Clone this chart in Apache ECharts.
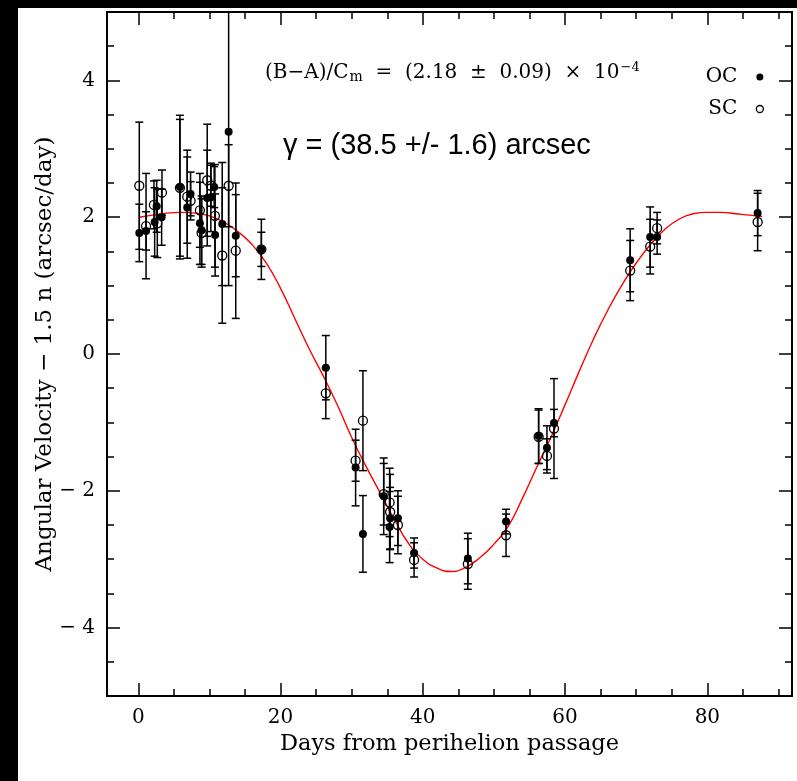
<!DOCTYPE html>
<html><head><meta charset="utf-8">
<script src="https://cdn.jsdelivr.net/npm/echarts@6/dist/echarts.min.js"></script>
<style>html,body{margin:0;padding:0;background:#fff}#c{width:797px;height:781px}</style>
</head><body><div id="c"></div>
<script>
// ---- tick labels ----
const xTickLabels = [0, 20, 40, 60, 80];
const xMinorTicks = [5, 10, 15, 25, 30, 35, 45, 50, 55, 65, 70, 75, 85, 90];
const yTickLabels = [-4, -2, 0, 2, 4];
const yMinorTicks = [-4.5, -3.5, -3, -2.5, -1.5, -1, -0.5, 0.5, 1, 1.5, 2.5, 3, 3.5, 4.5];

// ---- OC (filled) ----
const ocDays = [0.14, 1.09, 2.3, 2.58, 3.28, 5.85, 6.88, 7.35, 8.66, 8.9, 9.69, 10.2, 10.67, 10.8, 11.8, 12.7, 13.7, 17.3,
  26.36, 30.55, 31.58, 34.5, 35.33, 35.4, 36.5, 38.77, 46.33, 51.7, 56.28, 57.45, 58.44, 69.15, 71.96, 72.94, 87.07];
const ocVel = [1.77, 1.80, 1.93, 2.16, 2.00, 2.44, 2.14, 2.34, 1.91, 1.81, 2.28, 2.29, 2.44, 1.74, 1.90, 3.25, 1.73, 1.53,
  -0.20, -1.66, -2.63, -2.08, -2.53, -2.40, -2.40, -2.91, -2.99, -2.45, -1.20, -1.37, -1.01, 1.37, 1.71, 1.71, 2.06];
const ocErr = [0.42, 0.28, 0.50, 0.38, 0.41, 1.05, 0.74, 0.32, 0.60, 0.50, 0.70, 0.50, 0.30, 0.60, 0.90, 2.25, 0.60, 0.25,
  0.47, 0.56, 0.56, 0.56, 0.52, 0.45, 0.40, 0.22, 0.37, 0.18, 0.40, 0.32, 0.20, 0.46, 0.44, 0.25, 0.33];

// ---- SC (open) ----
const scDays = [0.14, 1.09, 2.2, 2.67, 3.33, 5.85, 6.88, 7.35, 8.66, 8.9, 9.69, 10.2, 10.77, 11.8, 12.7, 13.7, 17.3,
  26.36, 30.55, 31.58, 34.5, 35.33, 35.4, 36.5, 38.77, 46.33, 51.7, 56.28, 57.45, 58.44, 69.15, 71.96, 72.94, 87.07];
const scVel = [2.46, 1.87, 2.18, 1.91, 2.36, 2.43, 2.30, 2.24, 2.10, 1.77, 2.54, 2.46, 2.02, 1.44, 2.46, 1.51, 1.53,
  -0.575, -1.56, -0.975, -2.05, -2.17, -2.31, -2.50, -3.01, -3.07, -2.65, -1.21, -1.49, -1.09, 1.22, 1.57, 1.84, 1.93];
const scErr = [0.93, 0.77, 0.35, 0.50, 0.33, 1.00, 0.68, 0.28, 0.54, 0.50, 0.82, 0.30, 0.75, 0.99, 0.60, 0.99, 0.44,
  0.37, 0.30, 0.73, 0.45, 0.50, 0.55, 0.42, 0.25, 0.37, 0.31, 0.39, 0.25, 0.73, 0.44, 0.40, 0.23, 0.42];

// ---- fitted curve ----
const fitDays = [0.1, 2, 4, 6, 8, 10, 12, 14, 16, 18, 20, 22, 24, 26, 28, 30, 32, 34, 36, 38, 40, 42, 44, 46, 48,
  50, 52, 54, 56, 58, 60, 62, 64, 66, 68, 70, 72, 74, 76, 78, 80, 82, 84, 86, 87.7];
const fitVel = [2.00, 2.03, 2.06, 2.07, 2.06, 2.02, 1.93, 1.79, 1.60, 1.33, 0.96, 0.52, 0.08, -0.32, -0.75, -1.22, -1.64, -2.03, -2.42, -2.77, -3.00, -3.13, -3.18, -3.12, -2.98,
  -2.78, -2.52, -2.11, -1.66, -1.22, -0.74, -0.25, 0.22, 0.64, 1.01, 1.33, 1.60, 1.82, 1.97, 2.05, 2.07, 2.07, 2.05, 2.03, 2.01];

const SERIF = 'DejaVu Serif';
const X_MIN = -4.4, X_MAX = 91.9, Y_MIN = -5, Y_MAX = 5;

const zip3 = (a, b, c) => a.map((v, i) => [v, b[i], c[i]]);
const ocData = zip3(ocDays, ocVel, ocErr);
const scData = zip3(scDays, scVel, scErr);
const fitData = fitDays.map((v, i) => [v, fitVel[i]]);

function errBar(params, api) {
  const x = api.value(0), y = api.value(1), e = api.value(2);
  const top = api.coord([x, y + e]);
  const bot = api.coord([x, y - e]);
  const hw = 4;
  const st = { stroke: '#000', lineWidth: 1.5 };
  return {
    type: 'group',
    children: [
      { type: 'line', shape: { x1: top[0], y1: top[1], x2: bot[0], y2: bot[1] }, style: st },
      { type: 'line', shape: { x1: top[0] - hw, y1: top[1], x2: top[0] + hw, y2: top[1] }, style: st },
      { type: 'line', shape: { x1: bot[0] - hw, y1: bot[1], x2: bot[0] + hw, y2: bot[1] }, style: st }
    ]
  };
}

const yFmt = v => (v < 0 ? '\u2212 ' + Math.abs(v) : String(v));
const tickStyle = { color: '#000', width: 1.5 };

function xAx(pos, grid, ticks, len, labels, extra) {
  return Object.assign({
    type: 'value', gridIndex: grid, position: pos, min: X_MIN, max: X_MAX,
    axisLine: { show: false, onZero: false }, splitLine: { show: false },
    axisTick: { show: true, inside: true, length: len, customValues: ticks, lineStyle: tickStyle },
    axisLabel: labels ? { show: true, customValues: ticks, margin: 12, color: '#000', fontFamily: SERIF, fontSize: 20 } : { show: false }
  }, extra || {});
}
function yAx(pos, grid, ticks, len, labels, extra) {
  return Object.assign({
    type: 'value', gridIndex: grid, position: pos, min: Y_MIN, max: Y_MAX,
    axisLine: { show: false, onZero: false }, splitLine: { show: false },
    axisTick: { show: true, inside: true, length: len, customValues: ticks, lineStyle: tickStyle },
    axisLabel: labels ? { show: true, customValues: ticks, margin: 12, color: '#000', fontFamily: SERIF, fontSize: 20, formatter: yFmt } : { show: false }
  }, extra || {});
}

const gridBox = { left: 107, top: 12, right: 5, bottom: 85 };
const chart = echarts.init(document.getElementById('c'), null, { renderer: 'canvas' });
chart.setOption({
  backgroundColor: '#fff',
  animation: false,
  grid: [
    Object.assign({ show: true, borderColor: '#000', borderWidth: 2, backgroundColor: 'transparent', containLabel: false }, gridBox),
    Object.assign({ show: false, containLabel: false }, gridBox)
  ],
  xAxis: [
    xAx('bottom', 0, xTickLabels, 13, true, {
      name: 'Days from perihelion passage', nameLocation: 'middle', nameGap: 35,
      nameTextStyle: { color: '#000', fontFamily: SERIF, fontSize: 22.5 }
    }),
    xAx('top', 0, xTickLabels, 13, false),
    xAx('bottom', 1, xMinorTicks, 7, false),
    xAx('top', 1, xMinorTicks, 7, false)
  ],
  yAxis: [
    yAx('left', 0, yTickLabels, 13, true, {
      name: 'Angular Velocity \u2212 1.5 n (arcsec/day)', nameLocation: 'middle', nameGap: 50, nameRotate: 90,
      nameMoveOverlap: false,
      nameTextStyle: { color: '#000', fontFamily: SERIF, fontSize: 23 }
    }),
    yAx('right', 0, yTickLabels, 13, false),
    yAx('left', 1, yMinorTicks, 7, false),
    yAx('right', 1, yMinorTicks, 7, false)
  ],
  legend: {
    show: true, orient: 'vertical', right: 28, top: 62, align: 'right', itemGap: 12,
    itemWidth: 7, itemHeight: 7, icon: 'circle',
    textStyle: { color: '#000', fontFamily: SERIF, fontSize: 20, padding: [0, 14, 0, 0] },
    data: [
      { name: 'OC', itemStyle: { color: '#000', borderWidth: 0 } },
      { name: 'SC', itemStyle: { color: '#fff', borderColor: '#000', borderWidth: 1.3 } }
    ]
  },
  series: [
    { type: 'line', name: 'fit', data: fitData, smooth: 0.5, showSymbol: false, symbol: 'none', xAxisIndex: 0, yAxisIndex: 0,
      lineStyle: { color: '#ff0000', width: 1.4 }, z: 1, silent: true },
    { type: 'custom', name: 'ocErr', data: ocData, renderItem: errBar, encode: { x: 0, y: 1 }, clip: true, z: 2 },
    { type: 'custom', name: 'scErr', data: scData, renderItem: errBar, encode: { x: 0, y: 1 }, clip: true, z: 2 },
    { type: 'scatter', name: 'SC', data: scData, symbol: 'circle', symbolSize: 9,
      itemStyle: { color: 'rgba(0,0,0,0)', borderColor: '#000', borderWidth: 1.3, opacity: 1 }, z: 3 },
    { type: 'scatter', name: 'OC', data: ocData, symbol: 'circle', symbolSize: 8,
      itemStyle: { color: '#000', opacity: 1 }, z: 4 }
  ],
  graphic: [
    { type: 'rect', left: 0, top: 0, shape: { width: 18, height: 781 }, style: { fill: '#000' }, z: 100 },
    { type: 'rect', left: 0, top: 0, shape: { width: 797, height: 8 }, style: { fill: '#000' }, z: 100 },
    { type: 'text', left: 265, top: 61, z: 50,
      style: {
        text: '(B\u2212A)/C{sub|m}  =  (2.18  \u00b1  0.09)  \u00d7  10{sup|\u22124}',
        fill: '#000', font: '20px "DejaVu Serif"',
        rich: {
          sub: { fontSize: 14, fontFamily: SERIF, padding: [10, 0, 0, 1] },
          sup: { fontSize: 13, fontFamily: SERIF, padding: [0, 0, 10, 1] }
        }
      } },
    { type: 'text', left: 283, top: 131, z: 50,
      style: { text: '\u03b3 = (38.5 +/- 1.6) arcsec', fill: '#000', font: '29px "Liberation Sans"' } }
  ]
});
</script>
</body></html>
